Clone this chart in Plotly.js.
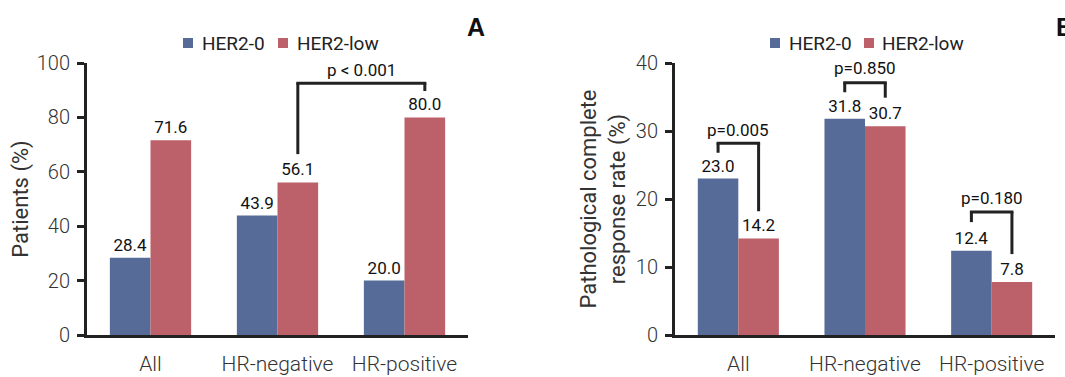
<!DOCTYPE html>
<html><head><meta charset="utf-8">
<script src="https://cdn.plot.ly/plotly-3.0.1.min.js"></script>
<style>html,body{margin:0;padding:0;background:#fff}#chart{width:1065px;height:377px}</style>
</head><body><div id="chart"></div>
<script>
// ---- data ----
const categories = ['All', 'HR-negative', 'HR-positive'];
const seriesNames = ['HER2-0', 'HER2-low'];
const patientsHer2Zero = [28.4, 43.9, 20.0];
const patientsHer2Low = [71.6, 56.1, 80.0];
const pcrHer2Zero = [23.0, 31.8, 12.4];
const pcrHer2Low = [14.2, 30.7, 7.8];
const panelLabels = ['A', 'B'];
const yTitleA = 'Patients (%)';
const yTitleB = 'Pathological complete<br>response rate (%)';
const pLabels = ['p < 0.001', 'p=0.005', 'p=0.850', 'p=0.180'];

// ---- style / layout helpers ----
const W = 1065, H = 377;
const BLUE = '#566b97', RED = '#bc6069', INK = '#222222';
const COLORS = [BLUE, RED];
const FONT = 'Roboto, "Liberation Sans", sans-serif';
const BARGAP = 0.36;
const off = (1 - BARGAP) / 4; // offset of bar centre within group
const fmt = v => v.toFixed(1);
const px = v => v / W, py = v => 1 - v / H;

function barTrace(vals, name, color, xa, ya) {
  return {
    type: 'bar', x: categories, y: vals, name: name,
    marker: {color: color, line: {width: 0}},
    text: vals.map(fmt), textposition: 'outside', cliponaxis: false,
    constraintext: 'none',
    textfont: {family: FONT, size: 17, color: '#111', weight: 400},
    xaxis: xa, yaxis: ya, showlegend: false,
    hoverinfo: 'skip'
  };
}

const data = [
  barTrace(patientsHer2Zero, seriesNames[0], BLUE, 'x', 'y'),
  barTrace(patientsHer2Low, seriesNames[1], RED, 'x', 'y'),
  barTrace(pcrHer2Zero, seriesNames[0], BLUE, 'x2', 'y2'),
  barTrace(pcrHer2Low, seriesNames[1], RED, 'x2', 'y2')
];

// brackets: [xref, yref, leftX, leftBottom, top, rightX, rightBottom]
const brackets = [
  ['x', 'y', 1 + off, 66.5, 92.6, 2 + off, 89.7],
  ['x2', 'y2', 0 - off, 26.8, 28.2, 0 + off, 18.2],
  ['x2', 'y2', 1 - off, 35.7, 37.1, 1 + off, 34.9],
  ['x2', 'y2', 2 - off, 16.6, 18.1, 2 + off, 11.9]
];
const pLabelY = [97.6, 30.2, 39.2, 20.2];

const shapes = [];
const annotations = [];
const lineStyle = {color: INK, width: 3};
brackets.forEach((b, i) => {
  const [xr, yr, lx, lb, top, rx, rb] = b;
  shapes.push({type: 'line', xref: xr, yref: yr, x0: lx, x1: lx, y0: lb, y1: top, line: lineStyle});
  shapes.push({type: 'line', xref: xr, yref: yr, x0: lx - 0.012, x1: rx + 0.012, y0: top, y1: top, line: lineStyle});
  shapes.push({type: 'line', xref: xr, yref: yr, x0: rx, x1: rx, y0: top, y1: rb, line: lineStyle});
  annotations.push({xref: xr, yref: yr, x: (lx + rx) / 2, y: pLabelY[i], text: pLabels[i],
    showarrow: false, xanchor: 'center', yanchor: 'middle', font: {family: FONT, size: 17, color: '#111'}});
});
// interior category boundary ticks
['x', 'x2'].forEach((xr, k) => {
  const yr = k === 0 ? 'y' : 'y2';
  [0.5, 1.5].forEach(p => {
    shapes.push({type: 'line', xref: xr, yref: yr, ysizemode: 'pixel', yanchor: 0,
      x0: p, x1: p, y0: 0, y1: -8, line: lineStyle});
  });
});

// legends (one per panel): square swatch + label
const legendPos = [[[183, 200], [278, 295]], [[770, 787], [864, 880]]];
legendPos.forEach(panel => {
  panel.forEach((pos, s) => {
    const [sx, tx] = pos;
    shapes.push({type: 'rect', xref: 'paper', yref: 'paper', x0: px(sx), x1: px(sx + 10), y0: py(48), y1: py(38),
      fillcolor: COLORS[s], line: {width: 0}});
    annotations.push({xref: 'paper', yref: 'paper', x: px(tx), y: py(43.5), xanchor: 'left', yanchor: 'middle',
      text: seriesNames[s], showarrow: false, font: {family: FONT, size: 19, color: INK}});
  });
});

annotations.push({xref: 'paper', yref: 'paper', x: px(476), xanchor: 'center', y: py(27), yanchor: 'middle',
  text: '<b>' + panelLabels[0] + '</b>',
  showarrow: false, font: {family: '"Liberation Sans", Arial, sans-serif', size: 25, color: '#111'}});
annotations.push({xref: 'paper', yref: 'paper', x: px(1054), xanchor: 'left', y: py(27), yanchor: 'middle',
  text: '<b>' + panelLabels[1] + '</b>',
  showarrow: false, font: {family: '"Liberation Sans", Arial, sans-serif', size: 25, color: '#111'}});

function yAxis(range, dtick, title, anchor, standoff) {
  return {
    range: range, dtick: dtick, domain: [py(335), py(63)], anchor: anchor,
    showline: true, linewidth: 3, linecolor: INK, ticks: 'outside', ticklen: 7, tickwidth: 3, tickcolor: INK,
    showgrid: false, zeroline: false, fixedrange: true,
    tickfont: {family: FONT, size: 20, color: '#333', weight: 300}, ticklabelstandoff: 3,
    title: {text: title, font: {family: FONT, size: 22, color: '#333'}, standoff: standoff}
  };
}
function xAxis(domain, anchor) {
  return {
    domain: domain, anchor: anchor, range: [-0.5, 2.5], type: 'category',
    showline: true, linewidth: 3, linecolor: INK, ticks: '', showgrid: false, zeroline: false,
    tickfont: {family: FONT, size: 21, color: '#333', weight: 300}, ticklabelstandoff: 8, fixedrange: true
  };
}

const layout = {
  width: W, height: H, margin: {l: 0, r: 0, t: 0, b: 0},
  paper_bgcolor: '#fff', plot_bgcolor: '#fff',
  barmode: 'group', bargap: BARGAP, bargroupgap: 0,
  xaxis: xAxis([px(87), px(468)], 'y'),
  yaxis: yAxis([0, 100], 20, yTitleA, 'x', 3),
  xaxis2: xAxis([px(675), px(1055)], 'y2'),
  yaxis2: yAxis([0, 40], 10, yTitleB, 'x2', 5),
  shapes: shapes, annotations: annotations, showlegend: false
};

Plotly.newPlot('chart', data, layout, {displayModeBar: false, staticPlot: true});
</script>
</body></html>
